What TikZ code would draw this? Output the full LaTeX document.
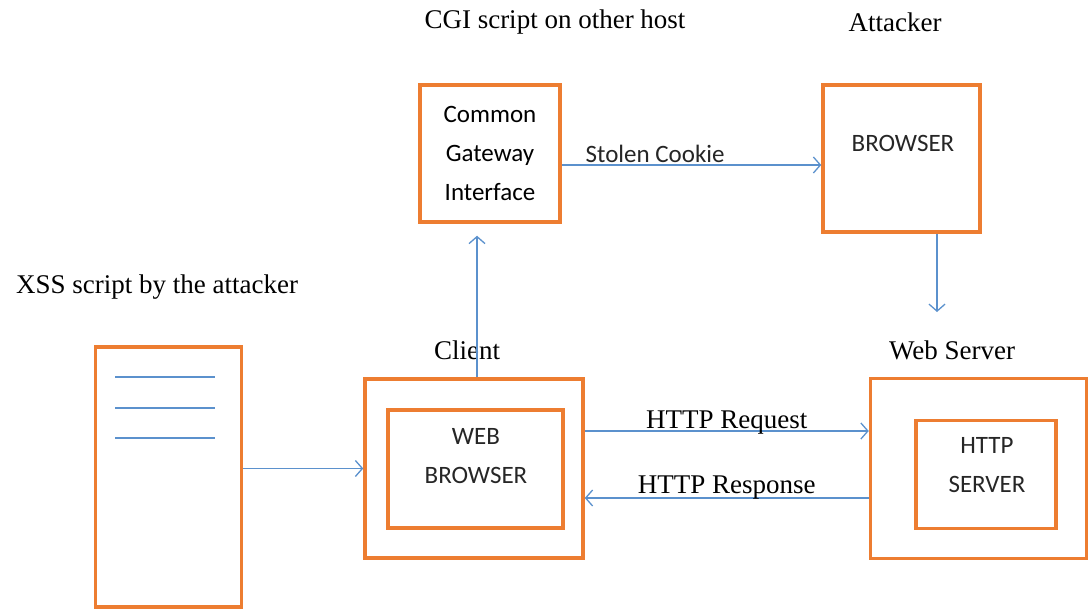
\documentclass[tikz,border=0pt]{standalone}
\usepackage{fontspec}
\setmainfont{Liberation Serif}
\newfontfamily\boxfont{Carlito}
\usetikzlibrary{arrows.meta}
\definecolor{boxorange}{RGB}{237,125,49}
\definecolor{linkblue}{RGB}{91,145,205}

\begin{document}
\begin{tikzpicture}[x=1pt, y=-1pt,
  box/.style={draw=boxorange, line width=3.5pt, inner sep=0pt, align=center,
    font=\boxfont\fontsize{25}{39}\selectfont},
  boxtext/.style={font=\boxfont\fontsize{25}{39}\selectfont, align=center, text=black!85},
  heading/.style={font=\fontsize{27}{32}\selectfont},
  link/.style={draw=linkblue, line width=1.3pt, -{Straight Barb[length=7pt, width=16pt]}},
  linktext/.style={font=\fontsize{27}{32}\selectfont, inner sep=0pt}]
  \useasboundingbox (0,0) rectangle (1089,612);

  % titles
  \node [heading] (cgilbl) at (555,22) {CGI script on other host};
  \node [heading] (atklbl) at (895,22) {Attacker};
  \node [heading] (xsslbl) at (157,287) {XSS script by the attacker};
  \node [heading] (clilbl) at (467,350) {Client};
  \node [heading] (srvlbl) at (952,350) {Web Server};

  % boxes
  \node [box, minimum width=140pt, minimum height=137pt] (cgi) at (490,153.5) {Common\\Gateway\\Interface};
  \node [box, minimum width=157pt, minimum height=147pt] (atk) at (901.5,158.5) {};
  \node [boxtext] (atktext) at (903,143) {BROWSER};
  \node [box, minimum width=146pt, minimum height=260pt] (xss) at (168.5,477) {};
  \foreach \y in {377,408,438}
    \draw [linkblue, line width=1.3pt] (115,\y) -- (215,\y);
  \node [box, minimum width=218pt, minimum height=179pt] (client) at (474,468.5) {};
  \node [box, minimum width=175pt, minimum height=118pt] (browser) at (475.5,469) {};
  \node [boxtext] (browsertext) at (476,456) {WEB\\BROWSER};
  \node [box, minimum width=216pt, minimum height=180pt] (server) at (978.5,468.5) {};
  \node [box, minimum width=140pt, minimum height=108pt] (httpd) at (986,474.5) {};
  \node [boxtext] (httpdtext) at (987,465) {HTTP\\SERVER};

  % connectors
  \coordinate (atkout) at (937,312);
  \draw [link] (cgi.east |- 0,165) -- node [boxtext, above, pos=.36, inner sep=2pt] {Stolen Cookie} (atk.west |- 0,165);
  \draw [link] (atk.south -| atkout) -- (atkout);
  \draw [link, shorten >=12pt] (client.north -| 477,0) -- (cgi.south -| 477,0);
  \draw [link] (xss.east |- client.west) -- (client.west);
  \draw [link] (client.east |- 0,431) -- node [linktext, above=-4pt] {HTTP Request} (server.west |- 0,431);
  \draw [link] (server.west |- 0,498) -- node [linktext, above=-2pt] {HTTP Response} (client.east |- 0,498);
\end{tikzpicture}
\end{document}
